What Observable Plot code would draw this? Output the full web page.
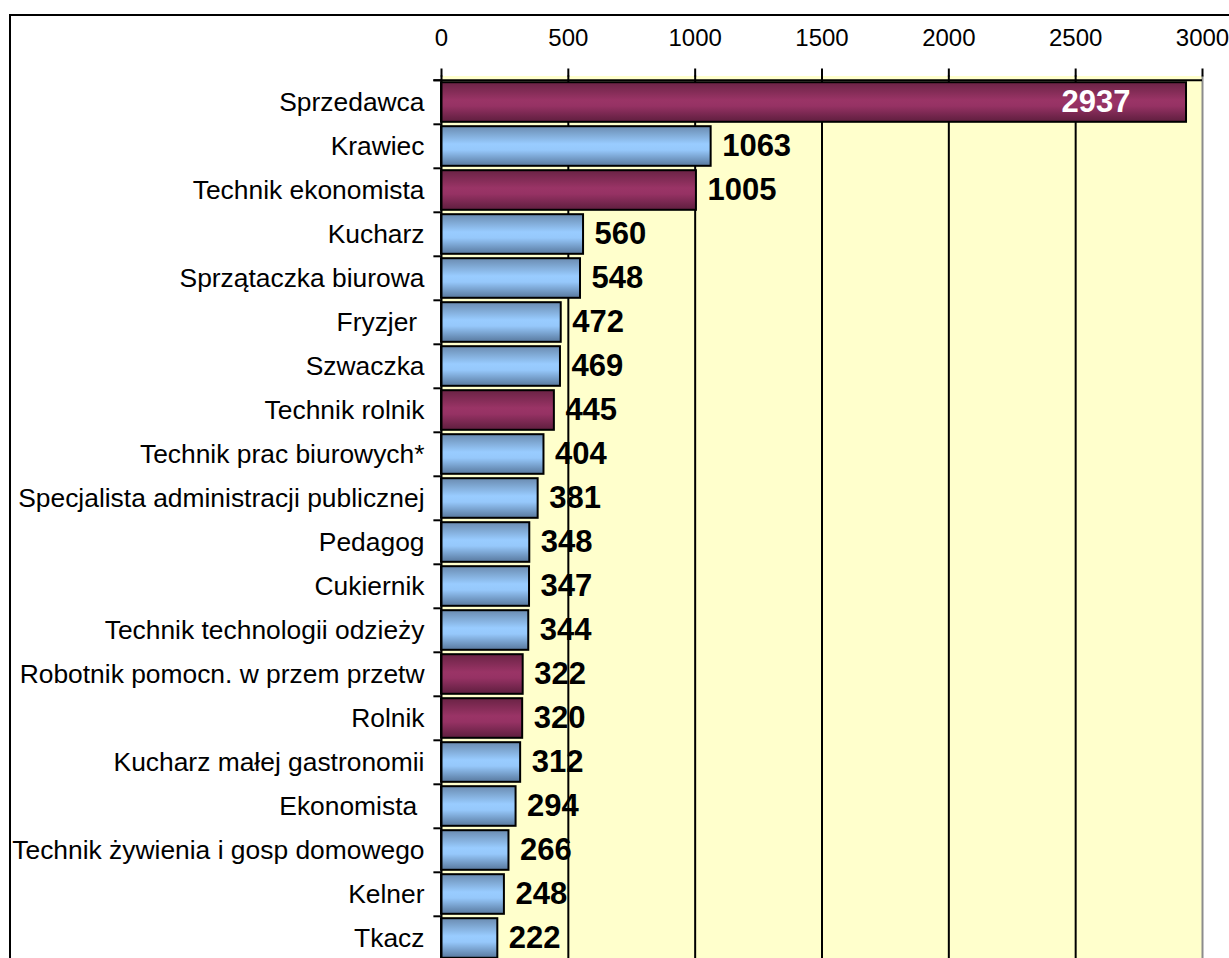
<!DOCTYPE html>
<html><head><meta charset="utf-8">
<script src="https://cdn.jsdelivr.net/npm/d3@7"></script>
<script src="https://cdn.jsdelivr.net/npm/@observablehq/plot@0.6"></script>
<style>
html,body{margin:0;padding:0;overflow:hidden;background:#fff;width:1229px;height:958px}
#box{position:absolute;left:9px;top:14px;width:1400px;height:1100px;border-top:2px solid #000;border-left:2px solid #000;}
#chart{position:absolute;left:0;top:0}
</style></head><body>
<div id="box"></div><div id="chart"></div>
<script>
const categories = [
  "Sprzedawca", "Krawiec", "Technik ekonomista", "Kucharz", "Sprzątaczka biurowa",
  "Fryzjer ", "Szwaczka", "Technik rolnik", "Technik prac biurowych*",
  "Specjalista administracji publicznej", "Pedagog", "Cukiernik",
  "Technik technologii odzieży", "Robotnik pomocn. w przem przetw", "Rolnik",
  "Kucharz małej gastronomii", "Ekonomista ", "Technik żywienia i gosp domowego",
  "Kelner", "Tkacz"
];
const values = [2937, 1063, 1005, 560, 548, 472, 469, 445, 404, 381, 348, 347, 344, 322, 320, 312, 294, 266, 248, 222];
const groups = ["m","b","m","b","b","b","b","m","b","b","b","b","b","m","m","b","b","b","b","b"];
const xTicks = [0, 500, 1000, 1500, 2000, 2500, 3000];
const gridValues = [500, 1000, 1500, 2000, 2500];

const data = categories.map((c, i) => ({name: c, value: values[i], group: groups[i]}));
const W = 1229, topM = 75.5, step = 44.4, botM = 12;
const H = topM + step * categories.length + botM;
const fontFamily = "'Liberation Sans', Arial, sans-serif";

const plot = Plot.plot({
  width: W, height: H,
  marginLeft: 441, marginRight: 27, marginTop: topM, marginBottom: botM,
  style: {fontFamily, background: "transparent", color: "#000", overflow: "visible"},
  x: {domain: [0, 3000], axis: null},
  y: {domain: categories, padding: 0, axis: null},
  marks: [
    Plot.frame({fill: "#FFFFCC", stroke: null}),
    Plot.ruleX(gridValues, {stroke: "#000", strokeWidth: 2}),
    Plot.ruleX([3000], {stroke: "#8c8c8c", strokeWidth: 2}),
    Plot.barX(data.filter(d => d.group === "b"), {y: "name", x: "value", fill: "url(#gBlue)", stroke: "#000", strokeWidth: 2, insetTop: 2.2, insetBottom: 2.2}),
    Plot.barX(data.filter(d => d.group === "m"), {y: "name", x: "value", fill: "url(#gMaroon)", stroke: "#000", strokeWidth: 2, insetTop: 2.2, insetBottom: 2.2}),
    Plot.ruleY(categories, {y: d => d, x1: -30, x2: 0, dy: -step / 2, stroke: "#000", strokeWidth: 2}),
    Plot.ruleY([categories[0]], {y: d => d, x1: -30, x2: 3000, dy: -step / 2, stroke: "#000", strokeWidth: 2}),
    Plot.ruleX([0], {stroke: "#000", strokeWidth: 2}),
    Plot.axisX(xTicks, {anchor: "top", tickSize: 8, tickPadding: 22, fontSize: 24, strokeWidth: 2, label: null, tickFormat: d => String(d)}),
    Plot.axisY({anchor: "left", tickSize: 0, tickPadding: 17, fontSize: 26.4, label: null}),
    Plot.text(data.filter(d => d.value < 2000), {x: "value", y: "name", text: d => String(d.value), textAnchor: "start", dx: 11, dy: 0, fontSize: 31, fontWeight: "bold", fill: "#000"}),
    Plot.text(data.filter(d => d.value >= 2000), {x: "value", y: "name", text: d => String(d.value), textAnchor: "end", dx: -56, dy: 0, fontSize: 31, fontWeight: "bold", fill: "#fff"})
  ]
});

const defs = d3.select(plot).insert("defs", ":first-child");
function grad(id, stops) {
  const g = defs.append("linearGradient").attr("id", id).attr("x1", 0).attr("y1", 0).attr("x2", 0).attr("y2", 1);
  stops.forEach(([o, c]) => g.append("stop").attr("offset", o).attr("stop-color", c));
}
grad("gBlue", [["0%", "#6a8bb0"], ["45%", "#99ccff"], ["60%", "#96c8fb"], ["100%", "#58789d"]]);
grad("gMaroon", [["0%", "#6a2345"], ["45%", "#9a3466"], ["60%", "#963264"], ["100%", "#5e1e3e"]]);

document.getElementById("chart").appendChild(plot);
</script>
</body></html>
